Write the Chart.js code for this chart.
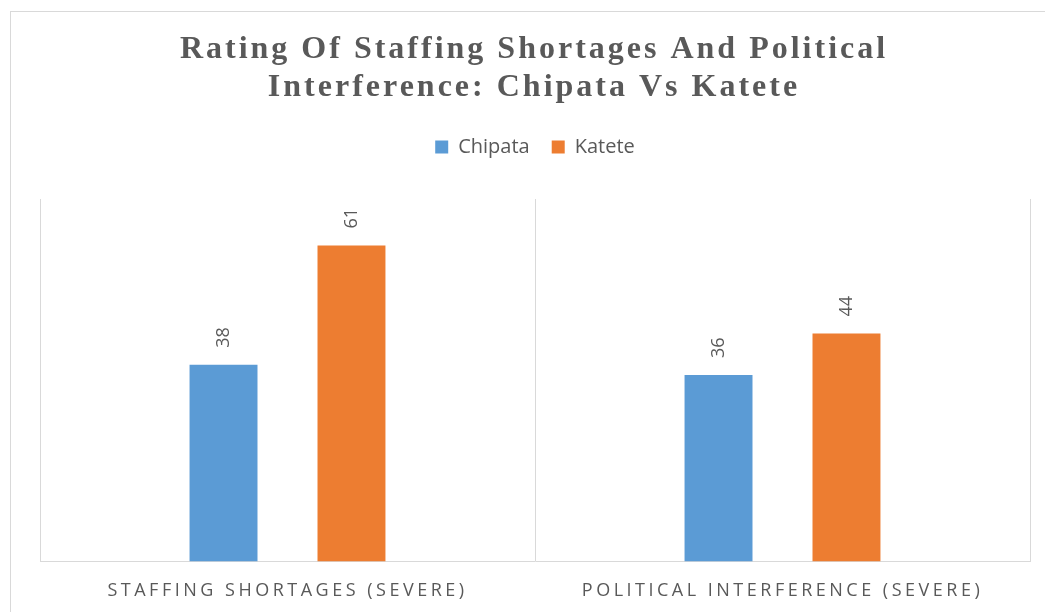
<!DOCTYPE html>
<html>
<head>
<meta charset="utf-8">
<script src="https://cdn.jsdelivr.net/npm/chart.js@4.4.0/dist/chart.umd.min.js"></script>
<style>
  html, body { margin: 0; padding: 0; background: #fff; }
  #wrap { width: 1045px; height: 612px; }
</style>
</head>
<body>
<div id="wrap"><canvas id="ratingChart"></canvas></div>
<script>
// chart data
var categories = ["STAFFING SHORTAGES (SEVERE)", "POLITICAL INTERFERENCE (SEVERE)"];
var chipataValues = [38, 36];
var kateteValues = [61, 44];
var titleLines = ["Rating Of Staffing Shortages And Political", "Interference: Chipata Vs Katete"];

var textGray = '#595959';

// frame + title (canvas letterSpacing so the spread-out Word look is kept)
var frameAndTitle = {
  id: 'frameAndTitle',
  beforeInit: function (chart) {
    // extra room under the legend, above the plot
    var origFit = chart.legend.fit;
    chart.legend.fit = function () {
      origFit.call(this);
      this.height += 32;
    };
  },
  beforeDraw: function (chart) {
    var ctx = chart.ctx;
    ctx.save();
    ctx.strokeStyle = '#d9d9d9';
    ctx.lineWidth = 1;
    ctx.strokeRect(10.5, 11.5, chart.width, chart.height);
    ctx.restore();
  },
  afterDraw: function (chart) {
    var ctx = chart.ctx;
    ctx.save();
    ctx.fillStyle = textGray;
    ctx.font = 'bold 32px "Liberation Serif", "Times New Roman", serif';
    ctx.letterSpacing = '3px';
    ctx.textAlign = 'center';
    ctx.textBaseline = 'middle';
    ctx.fillText(titleLines[0], 534, 50);
    ctx.fillText(titleLines[1], 534, 88);
    ctx.restore();
  }
};

// rotated value labels above the bars
var barValues = {
  id: 'barValues',
  afterDatasetsDraw: function (chart) {
    var ctx = chart.ctx;
    ctx.save();
    ctx.fillStyle = textGray;
    ctx.font = '18px "Open Sans", sans-serif';
    ctx.textAlign = 'left';
    ctx.textBaseline = 'middle';
    chart.data.datasets.forEach(function (ds, i) {
      chart.getDatasetMeta(i).data.forEach(function (bar, j) {
        ctx.save();
        ctx.translate(bar.x, bar.y - 17);
        ctx.rotate(-Math.PI / 2);
        ctx.fillText(ds.data[j], 0, 0);
        ctx.restore();
      });
    });
    ctx.restore();
  }
};

// spaced-out category labels: letterSpacing only while the x scale draws
var spacedTicks = {
  id: 'spacedTicks',
  beforeInit: function (chart) {
    var origDraw;
    chart.options.scales.x.afterFit = function (s) {
      if (s._spaced) return;
      s._spaced = true;
      origDraw = s.drawLabels;
      s.drawLabels = function (area) {
        this.ctx.save();
        this.ctx.letterSpacing = '3.5px';
        origDraw.call(this, area);
        this.ctx.restore();
      };
    };
  }
};

new Chart(document.getElementById('ratingChart'), {
  type: 'bar',
  data: {
    labels: categories,
    datasets: [{
      label: 'Chipata',
      data: chipataValues,
      backgroundColor: '#5b9bd5'
    }, {
      label: 'Katete',
      data: kateteValues,
      backgroundColor: '#ed7d31'
    }]
  },
  options: {
    responsive: true,
    maintainAspectRatio: false,
    animation: false,
    datasets: {
      bar: { categoryPercentage: 0.517, barPercentage: 0.531 }
    },
    layout: {
      padding: { top: 115, left: 40, right: 15, bottom: -9 }
    },
    plugins: {
      title: { display: false },
      tooltip: { enabled: false },
      legend: {
        display: true,
        labels: {
          boxWidth: 13,
          boxHeight: 13,
          color: textGray,
          font: { family: '"Open Sans", sans-serif', size: 20 },
          padding: 22
        }
      }
    },
    scales: {
      x: {
        grid: { display: true, color: '#d9d9d9', drawTicks: false, offset: true },
        border: { color: '#d9d9d9' },
        ticks: {
          color: textGray,
          padding: 19,
          font: { family: '"Open Sans", sans-serif', size: 18 }
        }
      },
      y: {
        display: false,
        min: 0,
        max: 70
      }
    }
  },
  plugins: [frameAndTitle, spacedTicks, barValues]
});
</script>
</body>
</html>
